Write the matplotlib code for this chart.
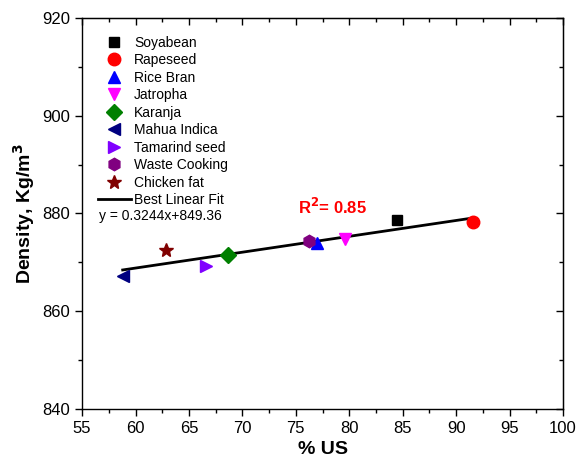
import numpy as np
import matplotlib.pyplot as plt
from matplotlib.ticker import MultipleLocator

plt.rcParams['font.family'] = ['Liberation Sans', 'DejaVu Sans']

# Data
# ************************
names = ['Soyabean', 'Rapeseed', 'Rice Bran', 'Jatropha', 'Karanja',
         'Mahua Indica', 'Tamarind seed', 'Waste Cooking', 'Chicken fat']
us = [84.5, 91.6, 77.0, 79.6, 68.7, 58.8, 66.6, 76.2, 62.9]
density = [878.7, 878.3, 873.9, 874.8, 871.5, 867.3, 869.3, 874.3, 872.6]
markers = ['s', 'o', '^', 'v', 'D', '<', '>', 'h', '*']
colors = ['black', 'red', 'blue', 'magenta', 'green', 'navy', '#8000ff', 'purple', 'maroon']
sizes = [7, 9, 9, 9, 8, 9, 9, 9, 10]

slope = 0.3244
intercept = 849.36
fit_x = [58.8, 91.6]


# Plot
# ****
fig = plt.figure(figsize=(5.78, 4.68), dpi=100)
ax = fig.add_axes([0.142, 0.126, 0.832, 0.836])

fit_y = [slope * v + intercept for v in fit_x]
ax.plot(fit_x, fit_y, color='black', lw=2, label='Best Linear Fit', zorder=2)

for i in range(len(names)):
    ax.plot(us[i], density[i], linestyle='none', marker=markers[i], color=colors[i],
            markersize=sizes[i], label=names[i], zorder=3)

ax.set_xlim(55, 100)
ax.set_ylim(840, 920)
ax.xaxis.set_major_locator(MultipleLocator(5))
ax.xaxis.set_minor_locator(MultipleLocator(2.5))
ax.yaxis.set_major_locator(MultipleLocator(20))
ax.yaxis.set_minor_locator(MultipleLocator(10))
ax.tick_params(which='major', direction='out', length=5, width=1, labelsize=12)
ax.tick_params(which='minor', direction='out', length=3, width=1)
for s in ax.spines.values():
    s.set_linewidth(1)

# top and right ticks point inward
top = ax.secondary_xaxis('top')
top.xaxis.set_major_locator(MultipleLocator(5))
top.xaxis.set_minor_locator(MultipleLocator(2.5))
top.tick_params(which='major', direction='in', length=5, width=1, labeltop=False)
top.tick_params(which='minor', direction='in', length=3, width=1)
right = ax.secondary_yaxis('right')
right.yaxis.set_major_locator(MultipleLocator(20))
right.yaxis.set_minor_locator(MultipleLocator(10))
right.tick_params(which='major', direction='in', length=5, width=1, labelright=False)
right.tick_params(which='minor', direction='in', length=3, width=1)

ax.set_xlabel('% US', fontsize=14, fontweight='bold')
ax.set_ylabel('Density, Kg/m$^\\mathbf{3}$', fontsize=14, fontweight='bold')

handles, labels = ax.get_legend_handles_labels()
order = list(range(1, len(handles))) + [0]
ax.legend([handles[i] for i in order], [labels[i] for i in order], loc='upper left',
          frameon=False, fontsize=10, handlelength=2.4, handletextpad=0.2,
          labelspacing=0.25, borderaxespad=0, bbox_to_anchor=(0.021, 0.968))

ax.text(0.036, 0.493, 'y = 0.3244x+849.36', transform=ax.transAxes, fontsize=10,
        va='center', ha='left')
ax.text(75.2, 881.4, 'R$^\\mathbf{2}$= 0.85', color='red', fontsize=12, fontweight='bold',
        va='center', ha='left')

fig.savefig('out.png', dpi=100)
